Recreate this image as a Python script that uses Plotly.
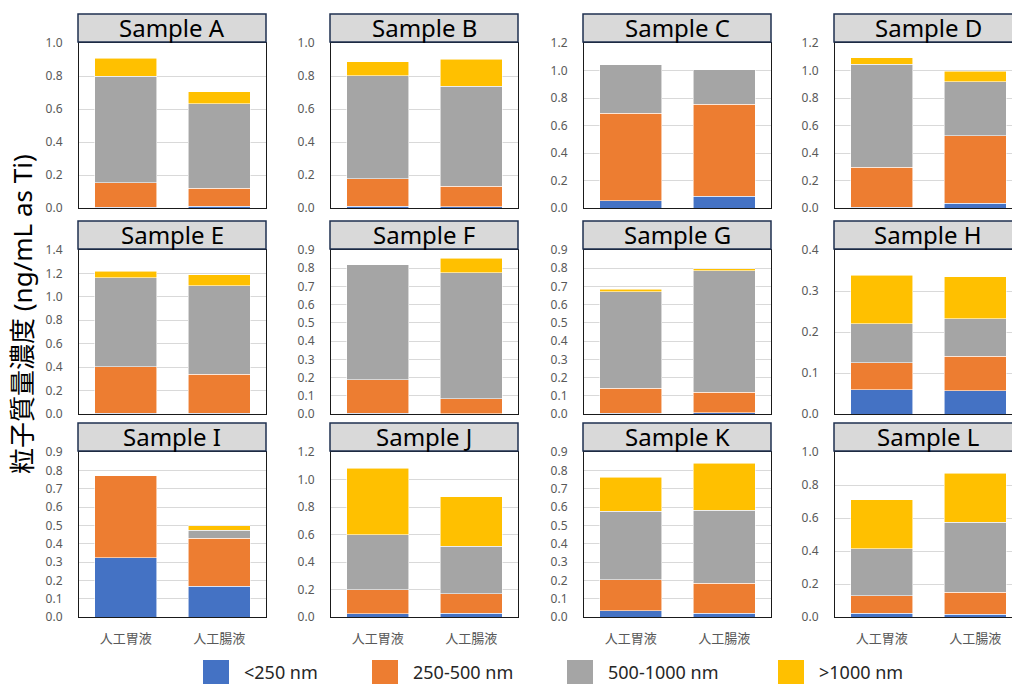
import plotly.graph_objects as go
from plotly.subplots import make_subplots

# ---- data -------------------------------------------------------------
categories = ["人工胃液", "人工腸液"]
samples = ["Sample A", "Sample B", "Sample C", "Sample D",
           "Sample E", "Sample F", "Sample G", "Sample H",
           "Sample I", "Sample J", "Sample K", "Sample L"]
size_classes = ["<250 nm", "250-500 nm", "500-1000 nm", ">1000 nm"]

# particle mass concentration (ng/mL as Ti) per sample: [gastric, intestinal]
lt250 = [[0.006, 0.010], [0.012, 0.008], [0.053, 0.087], [0.005, 0.034],
         [0.005, 0.005], [0.003, 0.002], [0.003, 0.007], [0.059, 0.057],
         [0.322, 0.168], [0.024, 0.027], [0.033, 0.020], [0.022, 0.018]]
r250_500 = [[0.146, 0.109], [0.164, 0.125], [0.635, 0.669], [0.291, 0.492],
            [0.399, 0.334], [0.185, 0.082], [0.138, 0.112], [0.066, 0.084],
            [0.449, 0.262], [0.173, 0.141], [0.171, 0.164], [0.106, 0.132]]
r500_1000 = [[0.646, 0.513], [0.626, 0.604], [0.354, 0.248], [0.751, 0.393],
             [0.760, 0.754], [0.630, 0.690], [0.530, 0.666], [0.095, 0.091],
             [0.000, 0.044], [0.403, 0.345], [0.372, 0.399], [0.287, 0.425]]
gt1000 = [[0.109, 0.073], [0.085, 0.164], [0.000, 0.000], [0.044, 0.075],
          [0.054, 0.096], [0.000, 0.082], [0.015, 0.013], [0.119, 0.103],
          [0.000, 0.025], [0.483, 0.361], [0.187, 0.255], [0.296, 0.295]]

y_max = [1.0, 1.0, 1.2, 1.2, 1.4, 0.9, 0.9, 0.4, 0.9, 1.2, 0.9, 1.0]
y_step = [0.2, 0.2, 0.2, 0.2, 0.2, 0.1, 0.1, 0.1, 0.1, 0.2, 0.1, 0.2]

colors = ["#4472C4", "#ED7D31", "#A5A5A5", "#FFC000"]
series = [lt250, r250_500, r500_1000, gt1000]

# ---- geometry (pixels) -----------------------------------------------
W, H = 1012, 684
col_left = [79, 331, 584, 835]
col_w = 187
row_top = [43, 250, 452]
row_bot = [208, 414, 617]
title_h = 29
cat_px = col_w / 2.0          # pixels per category unit

FONT = "Noto Sans, Noto Sans CJK JP, sans-serif"


def fx(px):
    return px / W


def fy(py):
    return 1 - py / H


fig = make_subplots(rows=3, cols=4)

for i, name in enumerate(samples):
    r, c = divmod(i, 4)
    for k, cls in enumerate(size_classes):
        fig.add_trace(
            go.Bar(
                x=categories,
                y=list(series[k][i]),
                name=cls,
                marker=dict(color=colors[k],
                            line=dict(color="rgba(255,255,255,0.7)", width=0.8)),
                showlegend=False,
                hoverinfo="y+name",
            ),
            row=r + 1, col=c + 1,
        )

shapes = []
annotations = []

for i, name in enumerate(samples):
    r, c = divmod(i, 4)
    ax = i + 1
    xname = "xaxis" if ax == 1 else f"xaxis{ax}"
    yname = "yaxis" if ax == 1 else f"yaxis{ax}"
    left = col_left[c]
    right = min(left + col_w, W)
    width_px = right - left
    x_range = [-0.5, -0.5 + width_px / cat_px]
    n_ticks = int(round(y_max[i] / y_step[i]))
    tickvals = [round(t * y_step[i], 2) for t in range(n_ticks + 1)]

    fig.layout[xname].update(
        domain=[fx(left), fx(right)],
        range=x_range,
        automargin=False,
        showline=True, mirror=True, linecolor="#1a1a1a", linewidth=1.2,
        showgrid=False, ticks="",
        showticklabels=(r == 2),
        tickfont=dict(family=FONT, size=13, color="#595959"),
        ticklabelstandoff=9,
        fixedrange=True,
    )
    fig.layout[yname].update(
        domain=[fy(row_bot[r]), fy(row_top[r])],
        range=[0, y_max[i]],
        automargin=False,
        tickvals=tickvals,
        tickformat=".1f",
        showline=True, mirror=(right - left == col_w),
        linecolor="#1a1a1a", linewidth=1.2,
        showgrid=True, gridcolor="#D9D9D9", gridwidth=1.2,
        zeroline=False, ticks="",
        tickfont=dict(family=FONT, size=12, color="#595959"),
        ticklabelstandoff=13,
        fixedrange=True,
    )

    # subplot header box
    box_l = left - 1
    box_r = left + col_w
    shapes.append(dict(
        type="rect", xref="paper", yref="paper",
        x0=fx(box_l), x1=fx(box_r),
        y0=fy(row_top[r] - 1), y1=fy(row_top[r] - title_h),
        fillcolor="#D9D9D9", line=dict(color="#1F3050", width=1.5),
        layer="above",
    ))
    annotations.append(dict(
        text=name, xref="paper", yref="paper",
        x=fx((box_l + box_r) / 2), y=fy(row_top[r] - title_h / 2 - 1),
        xanchor="center", yanchor="middle", showarrow=False,
        font=dict(family=FONT, size=24, color="#000000"),
    ))

# y-axis title
annotations.append(dict(
    text="粒子質量濃度 (ng/mL as Ti)", xref="paper", yref="paper",
    x=fx(22), y=fy(314), textangle=-90, showarrow=False,
    xanchor="center", yanchor="middle",
    font=dict(family=FONT, size=26, color="#000000"),
))

# legend row
legend_sq = [203, 372, 567, 778]
for k, cls in enumerate(size_classes):
    x0 = legend_sq[k]
    shapes.append(dict(
        type="rect", xref="paper", yref="paper",
        x0=fx(x0), x1=fx(x0 + 26), y0=fy(684), y1=fy(660),
        fillcolor=colors[k], line=dict(width=0),
    ))
    annotations.append(dict(
        text=cls, xref="paper", yref="paper",
        x=fx(x0 + 39), y=fy(672), xanchor="left", yanchor="middle",
        showarrow=False,
        font=dict(family=FONT, size=18, color="#262626"),
    ))

fig.update_layout(
    width=W, height=H,
    margin=dict(l=0, r=0, t=0, b=0, autoexpand=False),
    paper_bgcolor="white", plot_bgcolor="white",
    barmode="stack", bargap=0.337,
    shapes=shapes, annotations=annotations,
    showlegend=False,
)

fig.write_html(
    "out.html",
    post_script="document.body.style.margin='0';document.body.style.padding='0';"
                "document.documentElement.style.overflow='hidden';",
)
